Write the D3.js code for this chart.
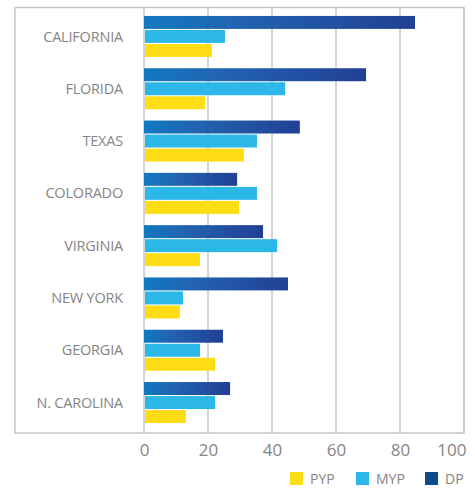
<!DOCTYPE html>
<html>
<head>
<meta charset="utf-8">
<script src="https://cdn.jsdelivr.net/npm/d3@7"></script>
<style>
  html, body { margin: 0; padding: 0; background: #fff; }
  svg { display: block; font-family: "Open Sans", "Noto Sans", sans-serif; }
</style>
</head>
<body>
<svg id="chart" width="475" height="489"></svg>
<script>
// data
const states = ["CALIFORNIA", "FLORIDA", "TEXAS", "COLORADO", "VIRGINIA", "NEW YORK", "GEORGIA", "N. CAROLINA"];
const seriesNames = ["DP", "MYP", "PYP"];
const dpValues  = [84.7, 69.4, 48.7, 29.1, 37.2, 45.0, 24.7, 26.9];
const mypValues = [25.3, 44.1, 35.3, 35.3, 41.6, 12.2, 17.5, 22.2];
const pypValues = [21.2, 19.1, 31.2, 29.7, 17.5, 11.2, 22.2, 13.1];
const xTicks = [0, 20, 40, 60, 80, 100];
const legendOrder = ["PYP", "MYP", "DP"];

const COLORS = { DP: "#0d4b8c", MYP: "#2bb7e8", PYP: "#ffdd15" };

const valuesBy = { DP: dpValues, MYP: mypValues, PYP: pypValues };
const rows = states.map((s, i) => ({
  state: s,
  vals: seriesNames.map(k => ({ key: k, v: valuesBy[k][i] }))
}));

const svg = d3.select("#chart");
const frame = { l: 15, r: 464, t: 7.5, b: 433 };

// scales
const x = d3.scaleLinear().domain([0, 100]).range([144, 464]);
const y = d3.scaleBand().domain(states).range([10.3, 428.7]).paddingInner(0.216).paddingOuter(0.108);
const ySub = d3.scaleBand().domain(seriesNames).range([0, y.bandwidth()]).paddingInner(0.075);

// gradient for DP bars
const defs = svg.append("defs");
const grad = defs.append("linearGradient").attr("id", "dpGrad")
  .attr("x1", "0%").attr("x2", "100%").attr("y1", "0%").attr("y2", "0%");
grad.append("stop").attr("offset", "0%").attr("stop-color", "#1179c0");
grad.append("stop").attr("offset", "35%").attr("stop-color", "#2263b0");
grad.append("stop").attr("offset", "100%").attr("stop-color", "#213f95");

// gridlines
svg.append("g").selectAll("line")
  .data(xTicks)
  .join("line")
  .attr("x1", d => x(d)).attr("x2", d => x(d))
  .attr("y1", frame.t).attr("y2", frame.b)
  .attr("stroke", "#c6c6c8")
  .attr("stroke-width", 1.5);

// frame
svg.append("rect")
  .attr("x", frame.l).attr("y", frame.t)
  .attr("width", frame.r - frame.l).attr("height", frame.b - frame.t)
  .attr("fill", "none")
  .attr("stroke", "#c6c6c8")
  .attr("stroke-width", 1.5);

// bars
const grp = svg.append("g").selectAll("g.state")
  .data(rows)
  .join("g").attr("class", "state")
  .attr("transform", d => `translate(0,${y(d.state)})`);

grp.selectAll("rect")
  .data(d => d.vals)
  .join("rect")
  .attr("x", d => d.key === "DP" ? x(0) : x(0) + 1)
  .attr("y", d => ySub(d.key))
  .attr("width", d => x(d.v) - x(0) - (d.key === "DP" ? 0 : 1))
  .attr("height", ySub.bandwidth())
  .attr("fill", d => d.key === "DP" ? "url(#dpGrad)" : COLORS[d.key]);

// state labels
svg.append("g").selectAll("text")
  .data(states)
  .join("text")
  .attr("x", 123)
  .attr("y", d => y(d) + ySub("MYP") + ySub.bandwidth() / 2)
  .attr("dy", "0.35em")
  .attr("text-anchor", "end")
  .attr("fill", "#858585")
  .style("font-size", "14.5px")
  .style("letter-spacing", "-0.2px")
  .text(d => d);

// x axis tick labels
const xAxis = svg.append("g")
  .attr("transform", `translate(0,${frame.b})`)
  .call(d3.axisBottom(x).tickValues(xTicks).tickSize(0).tickPadding(11));
xAxis.select(".domain").remove();
xAxis.selectAll("text")
  .attr("fill", "#858585")
  .style("font-size", "17px")
  .style("font-family", "\"Open Sans\", sans-serif");
// last label is pulled inside the picture, as in the original
xAxis.selectAll("text").filter(d => d === 100)
  .attr("text-anchor", "end")
  .attr("x", 2);

// legend
const legendX = { PYP: 290, MYP: 356, DP: 425 };
const lg = svg.append("g").selectAll("g")
  .data(legendOrder)
  .join("g")
  .attr("transform", d => `translate(${legendX[d]},472)`);
lg.append("rect")
  .attr("width", 13).attr("height", 13)
  .attr("fill", d => COLORS[d]);
lg.append("text")
  .attr("x", 20).attr("y", 7)
  .attr("dy", "0.35em")
  .attr("fill", "#858585")
  .style("font-size", "14px")
  .text(d => d);
</script>
</body>
</html>
